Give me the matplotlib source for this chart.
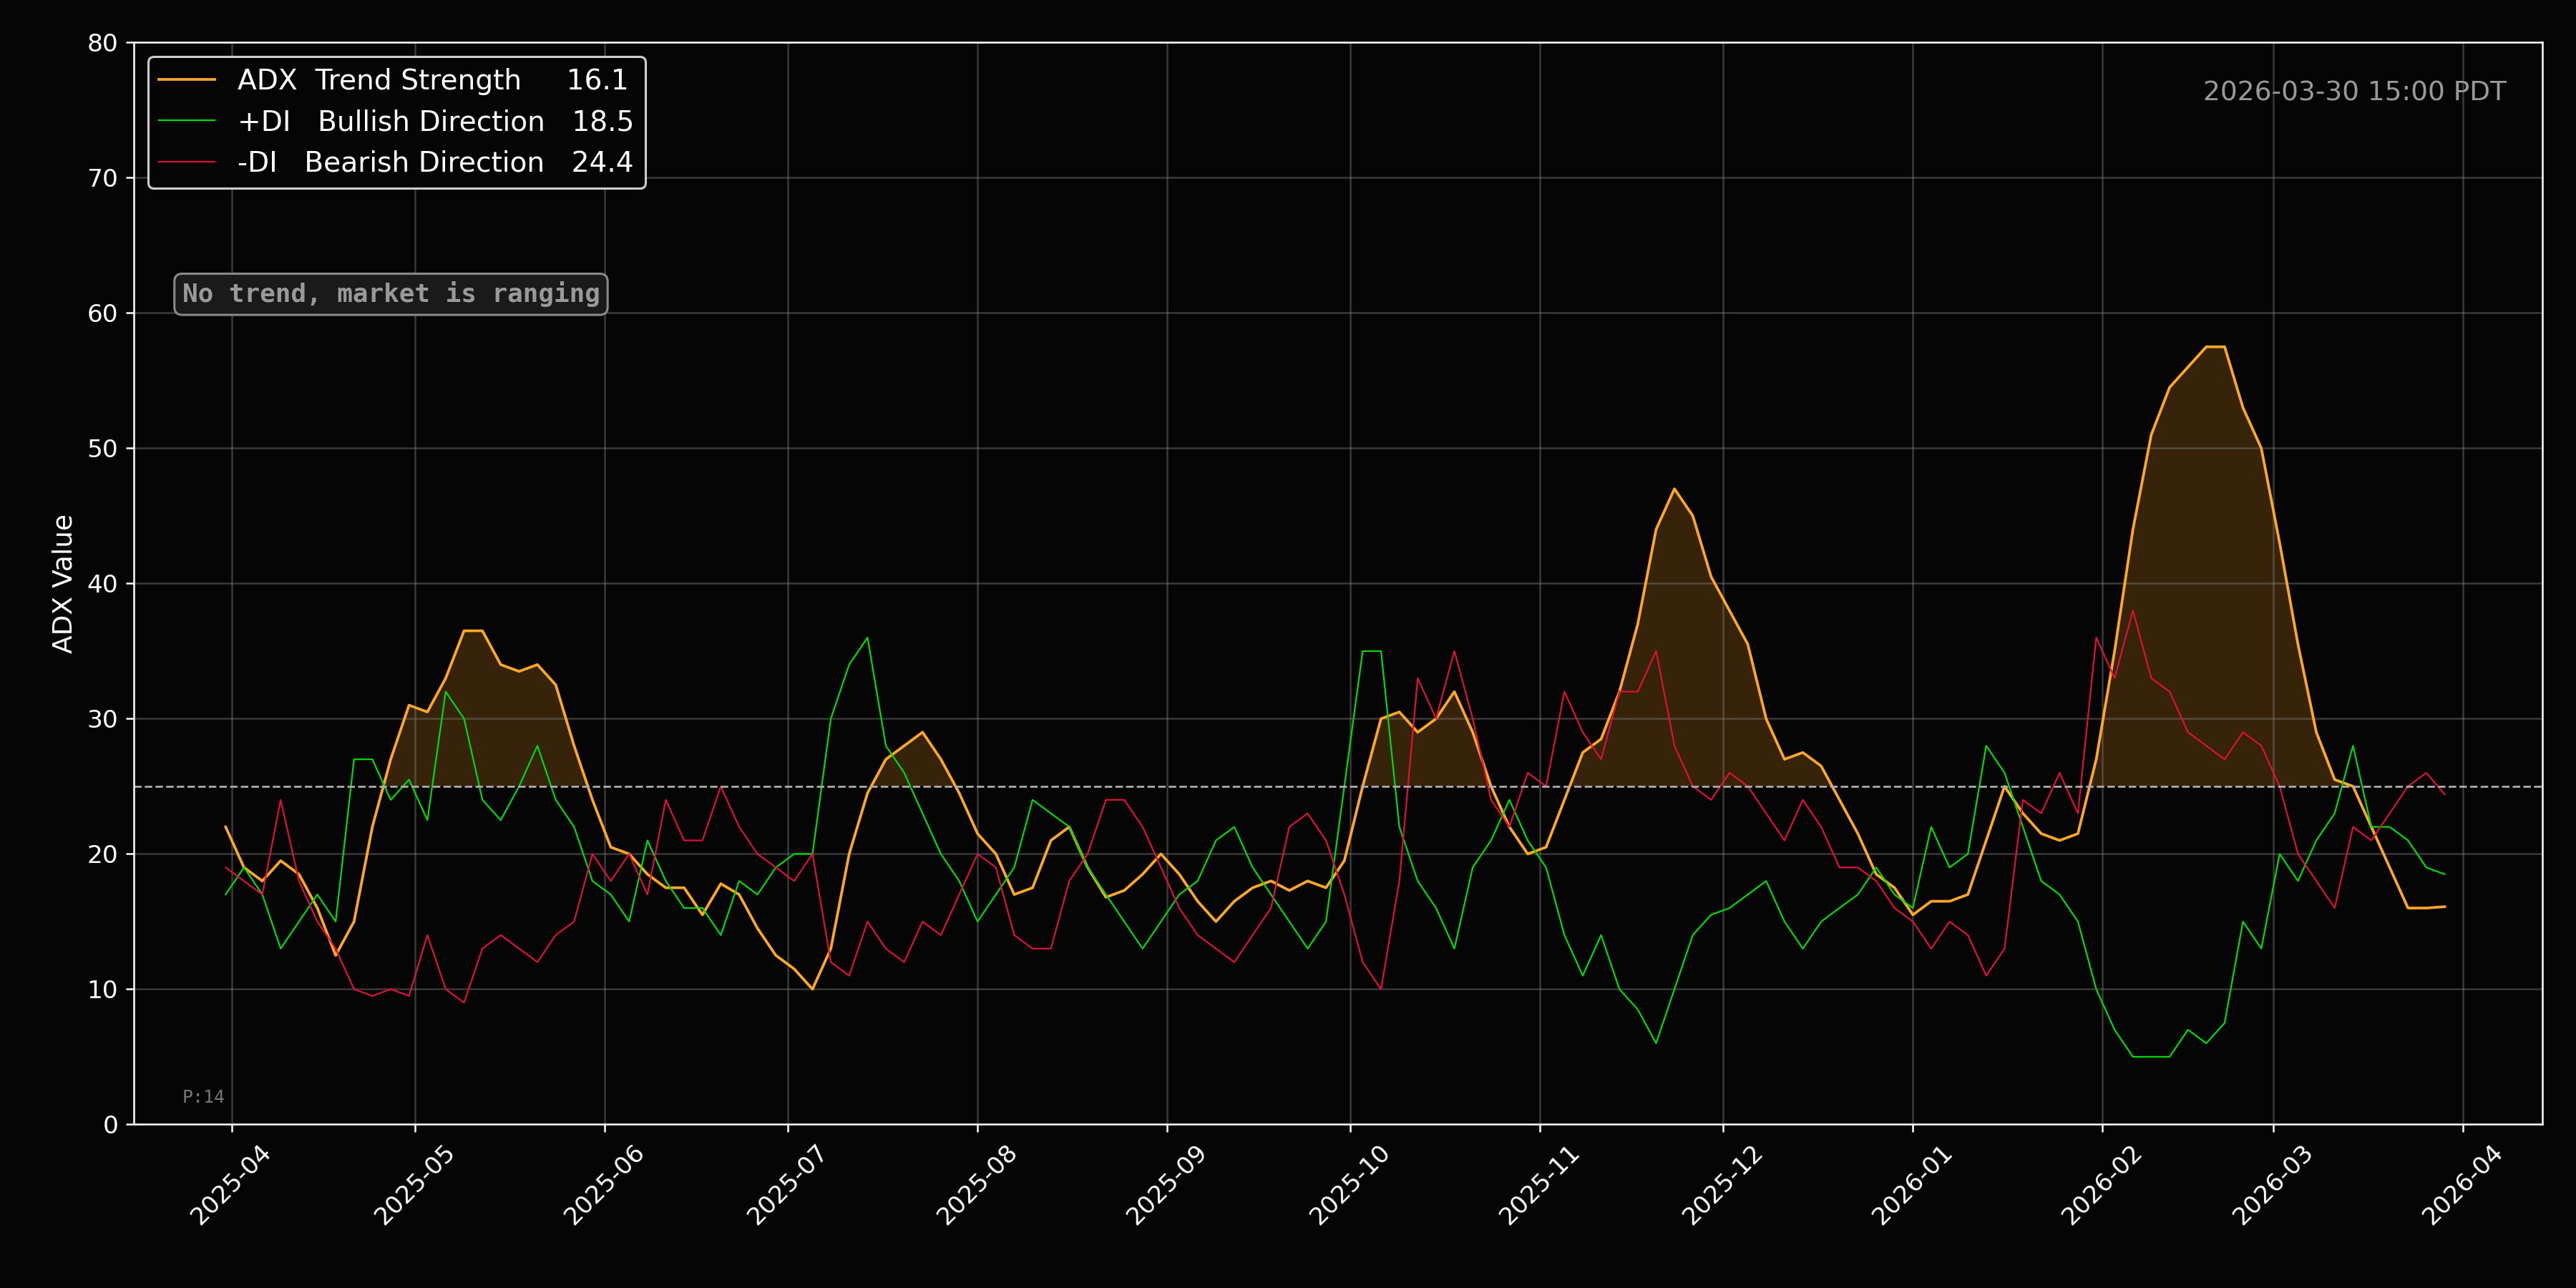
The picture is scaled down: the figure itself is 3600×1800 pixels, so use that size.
import matplotlib
matplotlib.use("Agg")
import matplotlib.pyplot as plt
import numpy as np
import pandas as pd

adx = [22,19,18,19.5,18.5,16,12.5,15,22,27,31,30.5,33,36.5,36.5,34,33.5,34,32.5,28,24,20.5,20,18.5,17.5,17.5,15.5,17.8,17,14.5,12.5,11.5,10,13,20,24.5,27,28,29,27,24.5,21.5,20,17,17.5,21,22,19,16.8,17.3,18.5,20,18.5,16.5,15,16.5,17.5,18,17.3,18,17.5,19.5,25,30,30.5,29,30,32,29,25,22,20,20.5,24,27.5,28.5,32,37,44,47,45,40.5,38,35.5,30,27,27.5,26.5,24,21.5,18.5,17.5,15.5,16.5,16.5,17,21,25,23,21.5,21,21.5,27,35,44,51,54.5,56,57.5,57.5,53,50,43,35.5,29,25.5,25,22,19,16,16,16.1]
pdi = [17,19,17,13,15,17,15,27,27,24,25.5,22.5,32,30,24,22.5,25,28,24,22,18,17,15,21,18,16,16,14,18,17,19,20,20,30,34,36,28,26,23,20,18,15,17,19,24,23,22,19,17,15,13,15,17,18,21,22,19,17,15,13,15,25,35,35,22,18,16,13,19,21,24,21,19,14,11,14,10,8.5,6,10,14,15.5,16,17,18,15,13,15,16,17,19,17,16,22,19,20,28,26,22,18,17,15,10,7,5,5,5,7,6,7.5,15,13,20,18,21,23,28,22,22,21,19,18.5]
mdi = [19,18,17,24,18,15,13,10,9.5,10,9.5,14,10,9,13,14,13,12,14,15,20,18,20,17,24,21,21,25,22,20,19,18,20,12,11,15,13,12,15,14,17,20,19,14,13,13,18,20,24,24,22,19,16,14,13,12,14,16,22,23,21,17,12,10,18,33,30,35,30,24,22,26,25,32,29,27,32,32,35,28,25,24,26,25,23,21,24,22,19,19,18,16,15,13,15,14,11,13,24,23,26,23,36,33,38,33,32,29,28,27,29,28,25,20,18,16,22,21,23,25,26,24.4]

start = pd.Timestamp("2025-03-31")
def dts(n):
    return start + pd.to_timedelta(np.arange(n) * 3, unit="D")

bg = "#050505"
fig = plt.figure(figsize=(16, 8), dpi=225, facecolor=bg)
ax = fig.add_axes([0.052, 0.127, 0.935, 0.84], facecolor=bg)

da = dts(len(adx)); dp = dts(len(pdi)); dm = dts(len(mdi))
a = np.array(adx)
ax.fill_between(da, a, 25, where=a > 25, interpolate=True, color="#ff9f1c", alpha=0.2, lw=0)
ax.plot(da, adx, color="#ffa726", lw=1.2, label=f"ADX  Trend Strength     {adx[-1]:.1f}")
ax.plot(dp, pdi, color="#00dd00", lw=0.7, label=f"+DI   Bullish Direction   {pdi[-1]:.1f}")
ax.plot(dm, mdi, color="#e0103a", lw=0.7, label=f"-DI   Bearish Direction   {mdi[-1]:.1f}")
ax.axhline(25, color="#aaaaaa", ls="--", lw=0.9)

ax.set_ylim(0, 80)
ax.set_xlim(pd.Timestamp("2025-03-16"), pd.Timestamp("2026-04-14"))
ticks = pd.date_range("2025-04-01", "2026-04-01", freq="MS")
ax.set_xticks(ticks)
ax.set_xticklabels([t.strftime("%Y-%m") for t in ticks], rotation=45, color="white", fontsize=11)
ax.tick_params(colors="white", labelsize=11)
ax.set_ylabel("ADX Value", color="white", fontsize=12)
ax.grid(True, color="#888888", alpha=0.4, lw=0.8)
for s in ax.spines.values():
    s.set_color("white")

leg = ax.legend(loc="upper left", fontsize=12.5, facecolor=bg, edgecolor="#cccccc", labelcolor="white", framealpha=1)
ax.text(0.985, 0.965, "2026-03-30 15:00 PDT", transform=ax.transAxes, ha="right", va="top", color="#999999", fontsize=12)
ax.text(0.02, 0.76, "No trend, market is ranging", transform=ax.transAxes, color="#999999", fontsize=11.5,
        family="DejaVu Sans Mono", fontweight="bold",
        bbox=dict(boxstyle="round,pad=0.3", facecolor="#1a1a1a", edgecolor="#888888"))
ax.text(0.02, 0.02, "P:14", transform=ax.transAxes, color="#777777", fontsize=8, family="DejaVu Sans Mono")
fig.savefig("out.png", facecolor=bg)
